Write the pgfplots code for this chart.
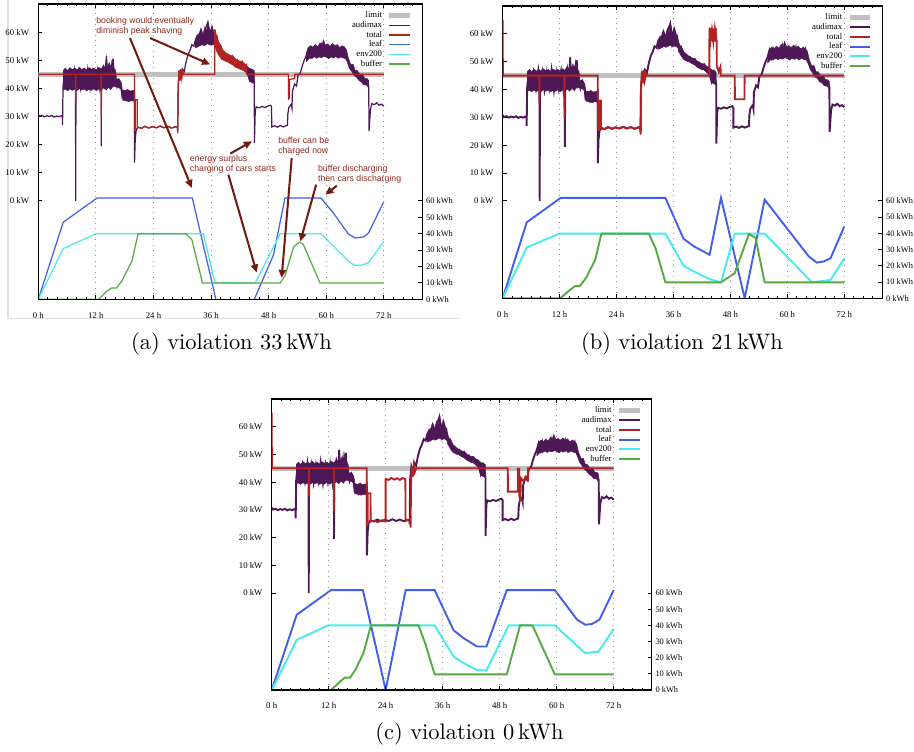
\documentclass[border=0pt]{standalone}
\usepackage{fontspec}
\usepackage{pgfplots}
\pgfplotsset{compat=1.18}
\usepackage{pgfplotstable}
\usetikzlibrary{arrows.meta}

\newfontfamily\plotserif{Liberation Serif}
\newfontfamily\plotsans{Liberation Sans}
\newcommand\tickfont{\plotserif\fontsize{3.9}{4.7}\selectfont}
\newcommand\rtickfont{\plotserif\fontsize{3.75}{4.5}\selectfont}
\newcommand\annfont{\plotsans\fontsize{3.9}{4.46}\selectfont}

\definecolor{limitc}{RGB}{192,192,192}
\definecolor{audc}{RGB}{78,24,86}
\definecolor{totc}{RGB}{178,34,34}
\definecolor{leafc}{RGB}{65,95,235}
\definecolor{envc}{RGB}{70,235,235}
\definecolor{bufc}{RGB}{85,170,65}
\definecolor{gridc}{RGB}{150,150,150}
\definecolor{annc}{RGB}{140,40,30}
\definecolor{arrc}{RGB}{115,25,15}

\pgfplotsset{
  powerax/.style={
    scale only axis, anchor=south west,
    xmin=0, xmax=80, ymin=-35, ymax=70,
    xtick={0,12,...,72},
    xticklabels={0 h,12 h,24 h,36 h,48 h,60 h,72 h},
    minor xtick={2,4,...,78},
    ytick={0,10,...,60},
    yticklabels={0 kW,10 kW,20 kW,30 kW,40 kW,50 kW,60 kW},
    ytick pos=left,
    tick align=inside,
    major tick length=1.8pt, minor tick length=1.1pt,
    tick style={black, line width=0.4pt},
    xmajorgrids, grid style={dotted, gridc, line width=0.4pt},
    axis line style={line width=0.5pt},
    tick label style={font=\tickfont},
    xticklabel style={yshift=-2.2pt},
    yticklabel style={xshift=-0.6pt},
    legend style={draw=none, fill=none, at={(0.976,0.978)}, anchor=north east,
      inner sep=0pt, font=\tickfont, row sep=0pt, column sep=2.2pt,
      nodes={inner xsep=0pt, inner ysep=0pt, text height=3.1pt, text depth=1.2pt}},
    legend plot pos=right,
    legend cell align=right,
    legend image code/.code={\draw[##1] (0pt,0pt) -- (9.3pt,0pt);},
  },
  energyax/.style={
    scale only axis, anchor=south west,
    xmin=0, xmax=80, ymin=0, ymax=180,
    hide x axis,
    axis y line*=right,
    axis line style={draw=none},
    ytick={0,10,...,60},
    yticklabels={0 kWh,10 kWh,20 kWh,30 kWh,40 kWh,50 kWh,60 kWh},
    tick align=inside,
    major tick length=1.8pt,
    tick style={black, line width=0.4pt},
    tick label style={font=\rtickfont},
    yticklabel style={inner xsep=0.4pt, xshift=1.1pt},
    unbounded coords=jump,
  },
}

% building load (same in all panels)
\pgfplotstableread{
t p
0.00 30.8
0.30 30.1
0.80 30.4
1.30 29.9
1.80 30.3
2.30 30.0
2.80 30.4
3.30 29.8
3.80 30.2
4.30 29.9
4.80 30.3
5.00 30.0
5.05 26.9
5.15 40.5
5.40 45
6.00 41
6.50 46
7.00 40.5
7.50 46.5
7.75 42
7.80 0.0
7.85 43
8.30 46.5
8.80 40
9.30 46
9.80 40.5
10.30 47
10.80 39.8
11.30 46
11.80 40.5
12.30 46.5
12.80 40
13.08 44
13.12 19.4
13.16 43
13.60 47
14.00 40.5
14.20 51.5
14.50 41
15.00 48
15.30 41.5
15.60 50.5
15.90 42
16.10 43
16.40 40.5
16.80 42.8
17.20 40.8
17.45 37
17.80 38.5
18.20 36.2
18.60 38.8
19.00 36.4
19.40 38.5
19.80 36.6
20.02 38
20.05 13.6
20.20 22
20.40 25.2
20.80 26.2
21.50 25.8
22.20 26.5
23.00 25.9
23.80 26.4
24.60 26.0
25.40 26.6
26.20 26.0
27.00 26.5
27.80 25.9
28.60 26.4
29.00 26.2
29.05 24.8
29.15 41
29.40 45.5
29.70 43.5
30.00 47
30.40 46
30.80 49.5
31.20 52
31.60 53.5
32.00 55.5
32.40 55
32.80 57.5
33.30 56
33.80 60
34.30 56.5
34.80 61
35.30 63.5
35.70 57
36.10 61
36.50 57
36.80 58.5
37.20 54
37.60 55
38.00 52
38.50 52.5
39.00 50.5
39.50 51.5
40.00 49.8
40.50 50.8
41.00 48.5
41.50 49.5
42.00 47.5
42.50 48.8
43.00 46.5
43.50 47
44.00 43
44.50 46
45.00 42
45.03 20.6
45.20 32
45.40 33.4
46.00 33.1
46.60 33.6
47.20 33.2
47.80 33.7
48.40 34.0
48.60 33.5
48.63 26.3
49.20 26.7
49.80 26.2
50.40 26.8
51.00 26.3
51.60 26.7
51.90 26.9
52.00 31
52.20 33.2
52.70 34.4
52.85 33
52.95 39
53.40 41.5
53.80 40.8
54.10 44.6
54.60 45.5
55.00 48
55.40 50
55.80 51.5
56.20 54
56.60 51.5
57.00 54.5
57.50 51.8
58.00 54
58.50 52
59.00 55.5
59.40 52.5
59.80 54.5
60.30 51.8
60.80 54.5
61.30 52
61.80 55
62.30 51.6
62.80 54
63.30 51.8
63.80 54.3
64.30 50.5
64.70 49.5
65.10 47.2
65.60 47.8
66.00 45.2
66.40 45.8
66.90 43.5
67.40 44.2
67.90 42.2
68.40 42.8
68.85 40.8
68.90 24.8
69.20 32.5
69.50 34.6
70.00 34.2
70.50 34.9
71.00 34.0
71.50 34.4
72.00 33.7
}\audimax

% noise envelopes of the building load
\pgfplotstableread{
t p
5.15 46.3
5.6 47.2
6.1 46.4
6.6 47.4
7.1 46.6
7.6 47.3
8.1 46.5
8.6 47.5
9.1 46.6
9.6 47.2
10.1 46.5
10.6 47.4
11.1 46.8
11.6 47.2
12.1 46.6
12.6 47.5
13.1 46.9
13.6 48.3
13.9 47.2
14.2 51.5
14.4 47.5
14.8 49.2
15.1 47.5
15.4 50.5
15.7 47.3
16.1 46.5
16.3 43.2
16.8 43.5
17.3 42
17.5 39.5
18.0 39.2
18.6 39.6
19.2 39.0
19.8 39.4
20.02 38.5
20.02 35.4
19.4 35.6
18.8 35.3
18.2 35.6
17.6 35.8
17.4 39.5
16.8 40.2
16.1 40.6
15.6 40.8
15.1 39.6
14.6 40.4
14.1 39.4
13.6 40.2
13.1 39.3
12.6 39.8
12.1 39.2
11.6 39.9
11.1 39.3
10.6 39.7
10.1 39.2
9.6 39.8
9.1 39.4
8.6 39.9
8.1 39.2
7.6 39.7
7.1 39.3
6.6 39.8
6.1 39.2
5.6 39.7
5.15 39.4
}\bandone

\pgfplotstableread{
t p
32.6 56.5
33.0 58.8
33.5 59.5
33.9 61.5
34.3 59.2
34.7 62
35.1 60.5
35.4 63.6
35.8 60.2
36.2 62.4
36.6 59.8
36.9 58
37.3 56
37.7 55.3
38.2 53.5
38.8 52.6
39.4 51.8
40.0 51.3
40.6 50.9
41.2 50.0
41.8 49.4
42.4 49.2
43.0 48.4
43.5 48.0
44.0 47.1
44.6 46.8
45.0 46.3
45.0 41.8
44.5 42.0
44.0 42.6
43.5 45.2
43.0 46.2
42.4 47.0
41.8 47.3
41.2 47.8
40.6 48.6
40.0 49.2
39.4 49.8
38.8 50.2
38.2 50.7
37.7 51.8
37.3 53.0
36.9 55
36.4 55.6
35.8 55.4
35.2 55.9
34.6 55.2
34.0 55.5
33.4 54.9
32.9 54.5
32.6 54.5
}\bandtwo

\pgfplotstableread{
t p
55.8 52
56.2 54.3
56.7 55.2
57.2 54.6
57.7 55.6
58.2 54.8
58.7 56.2
59.1 55.3
59.4 57.3
59.8 55.4
60.3 55.8
60.8 54.9
61.3 56
61.8 55
62.3 55.6
62.8 54.5
63.3 55.2
63.8 54.6
64.2 53.8
64.6 50.8
65.1 48.5
65.6 48.6
66.0 46.5
66.5 46.3
67.0 45
67.5 45.2
68.0 43.6
68.5 43.5
68.85 42.8
68.85 40.0
68.4 41.2
67.8 41.3
67.3 42.3
66.8 42.8
66.3 44.0
65.8 44.6
65.3 46
64.8 47.2
64.4 49.2
64.0 50.6
63.5 50.8
63.0 51.2
62.5 50.7
62.0 51.3
61.5 50.8
61.0 51.2
60.5 50.6
60.0 51.1
59.5 51.4
59.0 50.9
58.5 51.2
58.0 50.7
57.5 51.3
57.0 50.6
56.5 50.8
56.0 49.8
55.8 49.5
}\bandthree

% ---------- panel (a) ----------
\pgfplotstableread{
t p
0 45
7.78 45
7.80 35
7.82 45
13.08 45
13.10 30
13.12 45
20.03 45
20.06 25.2
20.20 25.5
20.22 36
20.60 36
20.62 26
20.80 26.2
21.50 25.8
22.20 26.5
23.00 25.9
23.80 26.4
24.60 26.0
25.40 26.6
26.20 26.0
27.00 26.5
27.80 25.9
28.60 26.4
29.00 26.2
29.05 24
29.15 42
29.30 46.5
29.50 42.8
29.70 46.8
29.90 43.5
30.10 46
30.30 45
36.75 45
36.78 61
37.00 56
37.30 58
37.60 53.5
38.00 55
38.30 51.5
38.70 53
39.10 50.2
39.50 52
40.00 49.5
40.50 51.5
41.00 48
41.50 50
42.00 47.3
42.50 49.5
43.00 46.5
43.40 48.2
43.45 45
52.10 45
52.12 36.2
52.30 36.5
52.35 43.2
53.40 43.5
53.45 45
72 45
}\totalA

\pgfplotstableread{
t p
36.8 61
37.2 58.5
37.6 56.5
38.0 55.5
38.5 53.5
39.0 52.8
39.5 52.2
40.0 51.8
40.6 51.4
41.2 50.4
41.8 49.8
42.4 49.6
43.0 48.8
43.4 48.4
43.4 46
43.0 46
42.4 46.6
41.8 47
41.2 47.4
40.6 48.2
40.0 48.8
39.4 49.4
38.8 49.8
38.2 50.3
37.7 51.5
37.2 53
36.8 55
}\bandtotA

\pgfplotstableread{
t e
0 0
5.2 47
12.2 61.7
32.1 61.7
37.0 0
41.0 nan
45.0 0
49.0 27
51.4 61.7
58.9 61.7
61.5 52.5
64.6 39.8
66.0 37.4
67.8 38.0
68.8 40.4
72.0 59.6
}\leafA

\pgfplotstableread{
t e
0 0
5.2 30.9
12.0 40
34.4 40
36.8 10.1
45.2 9.9
50.4 40
58.9 40
64.6 23.3
65.8 20.8
67.4 20.8
68.8 22.4
72.0 35.3
}\envA

\pgfplotstableread{
t e
0 0
12.6 0
14.2 4.8
15.3 6.9
16.3 6.9
17.4 11.1
19.5 23.2
20.8 40
30.7 40
32.0 36.4
34.2 10
50.4 10
51.4 14.3
53.2 32
54.4 34.8
55.2 33.5
58.7 10
72.0 10
}\bufA

% ---------- panel (b) ----------
\pgfplotstableread{
t p
0 65
0.03 45
7.72 45
7.74 35
7.76 45
13.00 45
13.02 29.6
13.04 45
20.03 45
20.06 25.5
20.30 25.5
20.32 36
20.70 36
20.72 26
21.50 25.8
22.20 26.5
23.00 25.9
23.80 26.4
24.60 26.0
25.40 26.6
26.20 26.0
27.00 26.5
27.80 25.9
28.60 26.4
29.00 26.2
29.05 23.8
29.15 40
29.35 46.5
29.55 42.5
29.75 47
29.95 43.5
30.20 46
30.40 45
43.55 45
43.58 62
43.80 57.5
44.10 61.5
44.40 57.2
44.70 61.8
45.00 57.5
45.10 57.5
45.12 48.5
45.50 46.5
45.90 48.2
45.95 45
48.90 45
48.93 36.5
50.95 36.5
50.98 45
72 45
}\totalB

\pgfplotstableread{
t p
43.58 62.3
44.0 61.5
44.3 62
44.7 61.2
45.1 62
45.1 56.9
44.7 57.5
44.3 57
44.0 57.8
43.58 57.2
}\bandtotB

\pgfplotstableread{
t e
0 0
5.07 46.8
12.2 61.8
34.3 61.8
38.1 36.7
40.3 32
43.6 26.8
46.0 61.9
51.0 0
55.2 60.8
64.5 25.8
66.2 22
67.7 22.7
69.1 24.7
72.0 44.3
}\leafB

\pgfplotstableread{
t e
0 0
5.07 31.3
11.9 39.8
34.3 39.8
38.1 20.2
40.3 16.5
43.6 11.8
46.0 9.8
48.9 39.8
55.2 39.8
65.2 9.8
69.1 11.3
72.0 24.7
}\envB

\pgfplotstableread{
t e
0 0
12.1 0
14.2 5.2
15.3 7.6
16.3 7.6
17.6 12.8
19.5 23.7
20.8 39.8
30.8 39.8
32.2 30.9
34.3 9.8
46.0 9.8
48.9 15.5
51.9 39.6
53.3 37.1
55.2 9.8
72.0 9.8
}\bufB

% ---------- panel (c) ----------
\pgfplotstableread{
t p
0 65
0.03 45
7.85 45
7.87 35
7.89 45
13.10 45
13.12 29.4
13.14 45
20.00 45
20.03 24
20.20 25.8
20.22 36
20.80 36
20.82 25.8
21.50 26.1
22.30 25.6
23.10 26.2
23.97 25.9
24.00 41.2
24.60 40.8
25.20 41.5
25.80 40.9
26.40 41.4
27.00 40.8
27.60 41.5
28.15 41
28.18 26
28.60 26.3
29.20 26
29.23 23.6
29.35 41
29.55 45.5
29.75 42
29.95 46
30.15 43.8
30.40 45
49.70 45
49.72 36.6
51.80 36.6
51.82 44.8
52.10 44.8
52.15 35
52.35 33
52.45 41.5
53.00 40.3
53.50 42
53.95 41
54.00 45
72 45
}\totalC

\pgfplotstableread{
t e
0 0
5.27 46.6
12.5 61.8
19.2 61.8
24.0 0
28.2 61.8
34.3 61.8
38.3 36.9
40.4 32.1
43.2 26.9
45.2 26.9
49.5 61.8
59.6 61.8
64.3 43.5
66.0 40.4
67.4 40.8
69.0 43.5
72.0 61.8
}\leafC

\pgfplotstableread{
t e
0 0
5.27 31
11.9 40
34.3 40
38.3 20.7
40.4 16.6
43.2 12.4
45.2 12.0
49.9 40
59.6 40
66.0 22.8
68.8 23.8
72.0 37.7
}\envC

\pgfplotstableread{
t e
0 0
12.5 0
14.4 5.2
15.4 7.7
16.5 7.7
17.6 12.4
19.3 22.8
20.9 40
30.9 40
32.3 29
34.3 9.7
49.5 9.7
52.3 40
54.9 40
59.6 9.7
72.0 9.7
}\bufC

\begin{document}
\begin{tikzpicture}
\useasboundingbox (0pt,0pt) rectangle (407.64pt,-334.95pt);

\begin{scope}[x=0.446pt,y=-0.446pt]
\draw[black!12, line width=0.45pt] (8,0) -- (8,318.5) -- (460,318.5);
\end{scope}

% ===== (a) =====
\def\lw{0.55pt}
\begin{axis}[energyax, at={(17.08pt,-133.49pt)}, width=171.26pt, height=131.70pt]
\addplot[leafc, line width=\lw] table {\leafA};
\addplot[envc, line width=\lw] table {\envA};
\addplot[bufc, line width=\lw] table {\bufA};
\end{axis}
\begin{axis}[powerax, at={(17.08pt,-133.49pt)}, width=171.26pt, height=131.70pt]
\addplot[limitc, line width=2.1pt] coordinates {(0,45) (72,45)};
\addlegendentry{limit}
\addplot[audc, line width=\lw] table {\audimax};
\addlegendentry{audimax}
\addplot[audc, fill=audc, line width=0.2pt, forget plot] table {\bandone};
\addplot[audc, fill=audc, line width=0.2pt, forget plot] table {\bandtwo};
\addplot[audc, fill=audc, line width=0.2pt, forget plot] table {\bandthree};
\addplot[totc, line width=\lw] table {\totalA};
\addlegendentry{total}
\addplot[totc, fill=totc, line width=0.2pt, forget plot] table {\bandtotA};
\addlegendimage{leafc, line width=\lw}
\addlegendentry{leaf}
\addlegendimage{envc, line width=\lw}
\addlegendentry{env200}
\addlegendimage{bufc, line width=\lw}
\addlegendentry{buffer}
% annotations
\node[anchor=north west, inner sep=0pt, align=left, font=\annfont, text=annc]
  at (axis cs:12.0,65.5) {booking would eventually\\diminish peak shaving};
\node[anchor=north west, inner sep=0pt, align=left, font=\annfont, text=annc]
  at (axis cs:31.5,16.4) {energy surplus\\charging of cars starts};
\node[anchor=north west, inner sep=0pt, align=left, font=\annfont, text=annc]
  at (axis cs:49.9,22.8) {buffer can be\\charged now};
\node[anchor=north west, inner sep=0pt, align=left, font=\annfont, text=annc]
  at (axis cs:58.2,12.9) {buffer discharging\\then cars discharging};
\begin{scope}[arrc, line width=0.9pt, -{Triangle[length=3.6pt,width=3.2pt]}]
\draw (axis cs:19.1,57.9) -- (axis cs:32.0,4.6);
\draw (axis cs:23.3,57.9) -- (axis cs:35.8,48.5);
\draw (axis cs:40.0,16.8) -- (axis cs:44.5,21.2);
\draw (axis cs:39.6,9.3) -- (axis cs:45.5,-25.5);
\draw (axis cs:52.8,15.3) -- (axis cs:50.7,-27.4);
\draw (axis cs:57.9,5.8) -- (axis cs:54.6,-14.4);
\draw (axis cs:62.2,5.4) -- (axis cs:59.8,2.2);
\end{scope}
\end{axis}

% ===== (b) =====
\def\lw{0.85pt}
\begin{axis}[energyax, at={(224.20pt,-133.04pt)}, width=169.30pt, height=130.37pt]
\addplot[leafc, line width=\lw] table {\leafB};
\addplot[envc, line width=\lw] table {\envB};
\addplot[bufc, line width=\lw] table {\bufB};
\end{axis}
\begin{axis}[powerax, at={(224.20pt,-133.04pt)}, width=169.30pt, height=130.37pt]
\addplot[limitc, line width=2.1pt] coordinates {(0,45) (72,45)};
\addlegendentry{limit}
\addplot[audc, line width=\lw] table {\audimax};
\addlegendentry{audimax}
\addplot[audc, fill=audc, line width=0.2pt, forget plot] table {\bandone};
\addplot[audc, fill=audc, line width=0.2pt, forget plot] table {\bandtwo};
\addplot[audc, fill=audc, line width=0.2pt, forget plot] table {\bandthree};
\addplot[totc, line width=\lw] table {\totalB};
\addlegendentry{total}
\addplot[totc, fill=totc, line width=0.2pt, forget plot] table {\bandtotB};
\addlegendimage{leafc, line width=\lw}
\addlegendentry{leaf}
\addlegendimage{envc, line width=\lw}
\addlegendentry{env200}
\addlegendimage{bufc, line width=\lw}
\addlegendentry{buffer}
\end{axis}

% ===== (c) =====
\begin{axis}[energyax, at={(121.18pt,-307.74pt)}, width=169.48pt, height=129.79pt]
\addplot[leafc, line width=\lw] table {\leafC};
\addplot[envc, line width=\lw] table {\envC};
\addplot[bufc, line width=\lw] table {\bufC};
\end{axis}
\begin{axis}[powerax, at={(121.18pt,-307.74pt)}, width=169.48pt, height=129.79pt]
\addplot[limitc, line width=2.1pt] coordinates {(0,45) (72,45)};
\addlegendentry{limit}
\addplot[audc, line width=\lw] table {\audimax};
\addlegendentry{audimax}
\addplot[audc, fill=audc, line width=0.2pt, forget plot] table {\bandone};
\addplot[audc, fill=audc, line width=0.2pt, forget plot] table {\bandtwo};
\addplot[audc, fill=audc, line width=0.2pt, forget plot] table {\bandthree};
\addplot[totc, line width=\lw] table {\totalC};
\addlegendentry{total}
\addlegendimage{leafc, line width=\lw}
\addlegendentry{leaf}
\addlegendimage{envc, line width=\lw}
\addlegendentry{env200}
\addlegendimage{bufc, line width=\lw}
\addlegendentry{buffer}
\end{axis}

% captions
\begin{scope}[x=0.446pt,y=-0.446pt, font=\fontsize{10}{12}\selectfont]
\node[anchor=base, inner sep=0pt] at (231.5,349) {(a) violation 33\,kWh};
\node[anchor=base, inner sep=0pt] at (682,349) {(b) violation 21\,kWh};
\node[anchor=base, inner sep=0pt] at (469.5,739) {(c) violation 0\,kWh};
\end{scope}
\end{tikzpicture}
\end{document}
